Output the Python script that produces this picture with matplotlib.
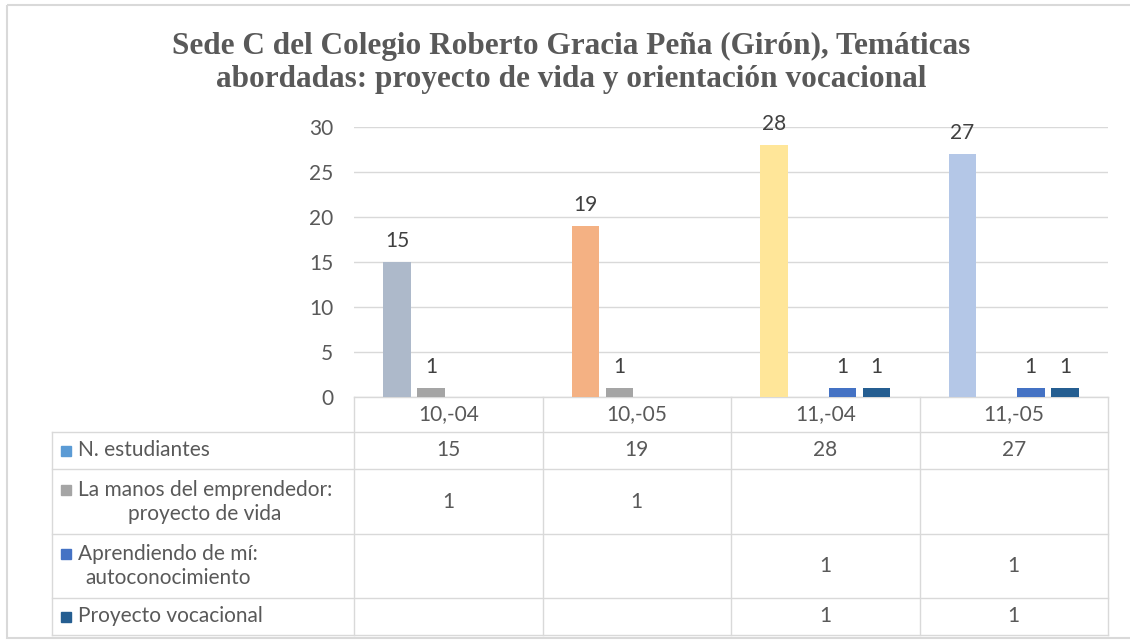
import numpy as np
import matplotlib.pyplot as plt
from matplotlib.patches import Rectangle

# data
categories = ['10,-04', '10,-05', '11,-04', '11,-05']
series_names = ['N. estudiantes',
                'La manos del emprendedor:\nproyecto de vida',
                'Aprendiendo de mí:\nautoconocimiento',
                'Proyecto vocacional']
estudiantes = [15, 19, 28, 27]
manos = [1, 1, None, None]
aprendiendo = [None, None, 1, 1]
vocacional = [None, None, 1, 1]
series_values = [estudiantes, manos, aprendiendo, vocacional]

title = ('Sede C del Colegio Roberto Gracia Peña (Girón), Temáticas\n'
         'abordadas: proyecto de vida y orientación vocacional')

# styling
estudiantes_colors = ['#ADB9CA', '#F4B183', '#FFE699', '#B4C7E7']
key_colors = ['#5B9BD5', '#A5A5A5', '#4472C4', '#255E91']
grid_color = '#D9D9D9'
text_color = '#595959'
fs = 15

plt.rcParams['font.family'] = ['Lato', 'DejaVu Sans']

W, H = 1130, 643
fig = plt.figure(figsize=(W / 100, H / 100), dpi=100)

# pixel layout of the plot area / data table
plot_left, plot_right = 354, 1108
plot_top, plot_bottom = 127, 397
table_left = 52
row_edges = [397, 432, 469, 534, 598, 635]

# overlay axes in pixel coordinates for the table and frame
ov = fig.add_axes([0, 0, 1, 1], zorder=0)
ov.set_xlim(0, W)
ov.set_ylim(H, 0)
ov.axis('off')

ax = fig.add_axes([plot_left / W, 1 - plot_bottom / H,
                   (plot_right - plot_left) / W, (plot_bottom - plot_top) / H],
                  zorder=1)
ax.set_facecolor('none')

n_cat = len(categories)
x = np.arange(n_cat)
step = 0.181
width = 0.146
for i, vals in enumerate(series_values):
    xs = x + (i - (len(series_values) - 1) / 2) * step
    for j, v in enumerate(vals):
        if v is None:
            continue
        c = estudiantes_colors[j] if i == 0 else key_colors[i]
        ax.bar(xs[j], v, width=width, color=c, zorder=3)
        ax.annotate(str(v), (xs[j], v), xytext=(0, 8), textcoords='offset points',
                    ha='center', va='bottom', fontsize=fs, color='#404040')

ax.set_xlim(-0.5, n_cat - 0.5)
ax.set_ylim(0, 30)
ax.set_yticks(range(0, 31, 5))
ax.set_xticks([])
ax.tick_params(axis='y', length=0, pad=15, labelsize=fs, labelcolor=text_color)
ax.grid(axis='y', color=grid_color, linewidth=1, zorder=0)
for s in ax.spines.values():
    s.set_visible(False)

# data table
col_w = (plot_right - plot_left) / n_cat
col_edges = [plot_left + k * col_w for k in range(n_cat + 1)]
lc = dict(color=grid_color, linewidth=1)
ov.plot([plot_left, plot_right], [row_edges[0], row_edges[0]], **lc)
for ye in row_edges[1:]:
    ov.plot([table_left, plot_right], [ye, ye], **lc)
for xe in col_edges:
    ov.plot([xe, xe], [row_edges[0], row_edges[-1]], **lc)
ov.plot([table_left, table_left], [row_edges[1], row_edges[-1]], **lc)

for k, cat in enumerate(categories):
    ov.text((col_edges[k] + col_edges[k + 1]) / 2, (row_edges[0] + row_edges[1]) / 2,
            cat, ha='center', va='center', fontsize=fs, color=text_color)

for i, (name, vals) in enumerate(zip(series_names, series_values)):
    y0, y1 = row_edges[i + 1], row_edges[i + 2]
    yc = (y0 + y1) / 2
    two_lines = '\n' in name
    ky = yc - 12 if two_lines else yc
    ov.add_patch(Rectangle((61, ky - 5), 10, 10, color=key_colors[i]))
    ov.text(78, yc, name, ha='left', va='center', multialignment='center',
            fontsize=fs, color=text_color, linespacing=1.25)
    for k, v in enumerate(vals):
        if v is None:
            continue
        ov.text((col_edges[k] + col_edges[k + 1]) / 2, yc, str(v),
                ha='center', va='center', fontsize=fs, color=text_color)

# chart frame
ov.add_patch(Rectangle((7, 5), W, 633, fill=False, edgecolor='#D9D9D9', linewidth=1.5))

fig.text(571 / W, 1 - 63 / H, title, ha='center', va='center',
         family='Liberation Serif', fontweight='bold', fontsize=22.5,
         color=text_color, linespacing=1.2)

fig.savefig('out.png', dpi=100)
